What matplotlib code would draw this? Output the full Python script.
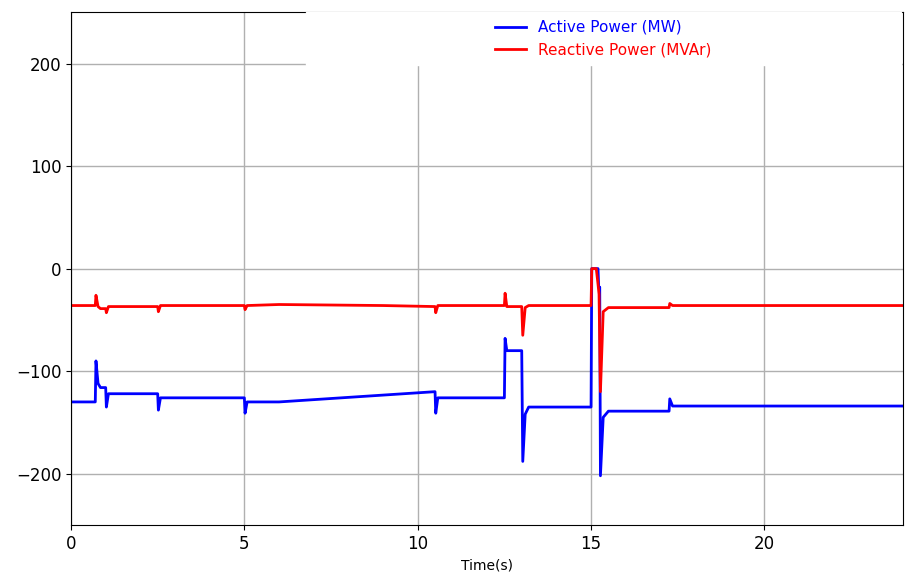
import matplotlib
matplotlib.use("Agg")
import matplotlib.pyplot as plt

# breakpoints (time in s)
time_p = [0, 0.7, 0.72, 0.78, 0.85, 1.0, 1.02, 1.08, 2.5, 2.52, 2.58, 5.0, 5.02, 5.08, 6.0,
          10.5, 10.52, 10.58, 12.5, 12.52, 12.57, 13.0, 13.03, 13.1, 13.2, 15.0, 15.02, 15.2,
          15.22, 15.25, 15.27, 15.35, 15.5, 17.25, 17.27, 17.35, 24]
active = [-130, -130, -90, -112, -116, -116, -135, -122, -122, -138, -126, -126, -141, -130, -130,
          -120, -141, -126, -126, -68, -80, -80, -188, -142, -135, -135, 0, 0,
          -18, -18, -202, -145, -139, -139, -127, -134, -134]

time_q = [0, 0.7, 0.72, 0.78, 0.85, 1.0, 1.02, 1.08, 2.5, 2.52, 2.58, 5.0, 5.02, 5.08, 6.0, 9.0,
          10.5, 10.52, 10.58, 12.5, 12.52, 12.57, 13.0, 13.03, 13.1, 13.2, 15.0, 15.02, 15.15,
          15.2, 15.23, 15.27, 15.35, 15.5, 17.25, 17.27, 17.35, 24]
reactive = [-36, -36, -26, -37, -39, -39, -43, -37, -37, -42, -36, -36, -40, -36, -35, -36,
            -37, -43, -36, -36, -24, -37, -37, -65, -38, -36, -36, 0, 0,
            -15, -25, -120, -42, -38, -38, -34, -36, -36]

fig = plt.figure(figsize=(9.15, 5.83), dpi=100)
ax = fig.add_axes([0.0776, 0.0995, 0.9094, 0.8795])
ax.plot(time_p, active, color="blue", linewidth=2, label="Active Power (MW)")
ax.plot(time_q, reactive, color="red", linewidth=2, label="Reactive Power (MVAr)")
ax.set_xlim(0, 24)
ax.set_ylim(-250, 250)
ax.set_xticks([0, 5, 10, 15, 20])
ax.set_yticks([-200, -100, 0, 100, 200])
ax.tick_params(labelsize=12)
ax.grid(True, color="#b0b0b0", linewidth=1)
ax.set_xlabel("Time(s)", fontsize=10)

leg = ax.legend(loc="upper left", fontsize=11, frameon=True, framealpha=1, edgecolor="white",
                fancybox=False, borderaxespad=0, borderpad=0.5, handlelength=2.0)
for text, line in zip(leg.get_texts(), leg.get_lines()):
    text.set_color(line.get_color())
leg.set_bbox_to_anchor((0.282, 0.897, 0.715, 0.103), transform=ax.transAxes)
leg._mode = "expand"

fig.savefig("out.png")
